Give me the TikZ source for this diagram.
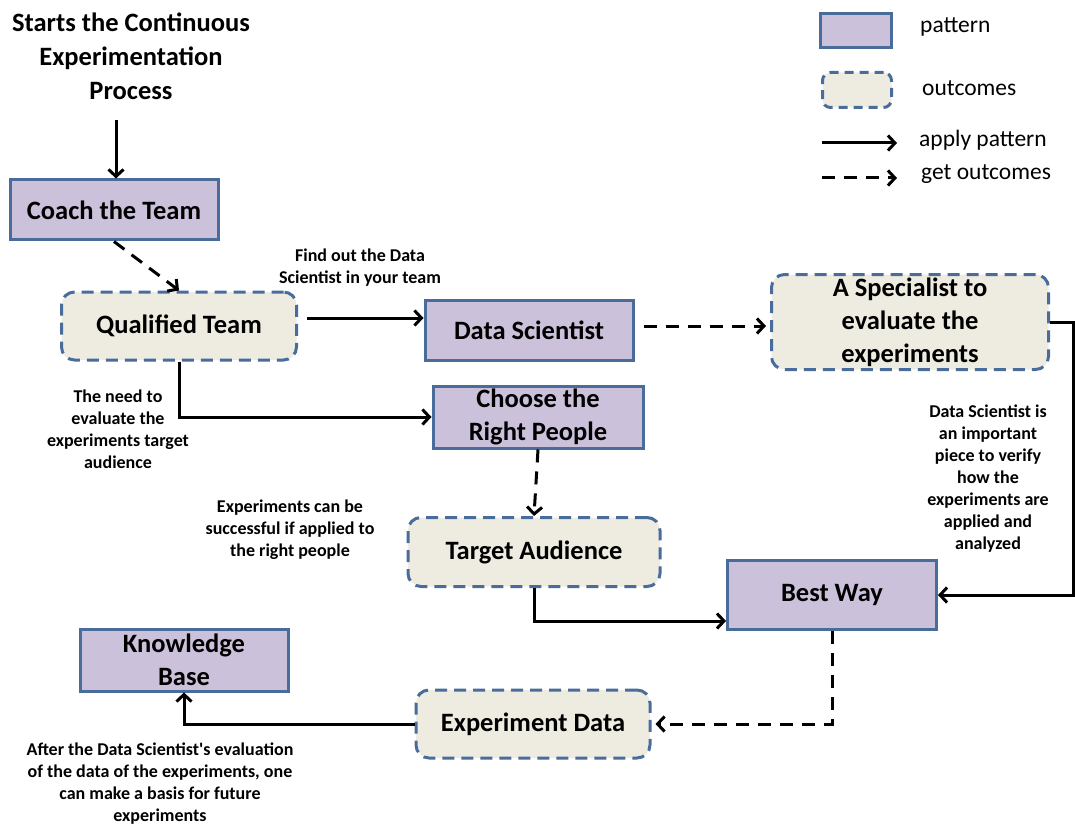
\documentclass[tikz,border=0pt]{standalone}
\usepackage{fontspec}
\setmainfont{Carlito}[Ligatures=TeXOff]
\usetikzlibrary{arrows.meta}
\definecolor{pfill}{HTML}{CCC1DA}
\definecolor{ofill}{HTML}{EEECE1}
\definecolor{bord}{HTML}{4A6C9B}
\tikzset{
  patbox/.style={draw=bord, line width=3pt, fill=pfill, inner sep=0pt, align=center,
    font=\fontsize{26.5}{33}\selectfont\bfseries},
  outbox/.style={draw=bord, line width=3pt, dash pattern=on 12pt off 7pt, fill=ofill,
    rounded corners=13pt, inner sep=0pt, align=center, font=\fontsize{26.5}{33}\selectfont\bfseries},
  note/.style={align=center, inner sep=0pt, font=\fontsize{18}{22}\selectfont\bfseries},
  legtext/.style={anchor=west, inner sep=0pt, font=\fontsize{23.5}{28}\selectfont},
  conn/.style={line width=3pt, -{Straight Barb[length=7pt,width=15pt]}},
  dconn/.style={conn, dash pattern=on 13pt off 9pt},
}
\begin{document}
\begin{tikzpicture}[x=1pt, y=-1pt]
\path[use as bounding box] (0,0) rectangle (1075,826);

% title
\node[align=center, inner sep=0pt, font=\fontsize{26.5}{34}\selectfont\bfseries] (title) at (131,56)
  {Starts the Continuous\\Experimentation\\Process};
\coordinate (tstart) at (116,120);

% nodes
\node[patbox, minimum width=208pt, minimum height=60pt] (coach) at (114,210) {Coach the Team};
\node[outbox, minimum width=235pt, minimum height=68pt] (qual) at (179,326) {Qualified Team};
\node[patbox, minimum width=208pt, minimum height=60pt] (ds) at (529,330) {Data Scientist};
\node[outbox, minimum width=277pt, minimum height=95pt] (spec) at (910,322) {A Specialist to\\evaluate the\\experiments};
\node[patbox, minimum width=210pt, minimum height=62pt] (choose) at (538,417) {Choose the\\Right People};
\node[outbox, minimum width=252pt, minimum height=69pt] (target) at (534,552) {Target Audience};
\node[patbox, minimum width=209pt, minimum height=69pt] (best) at (832,595) {Best Way};
\node[outbox, minimum width=234pt, minimum height=68pt] (expd) at (533,724) {Experiment Data};
\node[patbox, minimum width=208pt, minimum height=62pt] (kb) at (184,660) {Knowledge\\Base};

% notes
\node[note] (nfind) at (360,268) {Find out the Data\\Scientist in your team};
\node[note] (nneed) at (118,429) {The need to\\evaluate the\\experiments target\\audience};
\node[note] (nsucc) at (290,530) {Experiments can be\\successful if applied to\\the right people};
\node[note] (nimp) at (988,478.5) {Data Scientist is\\an important\\piece to verify\\how the\\experiments are\\applied and\\analyzed};
\node[note] (nafter) at (160,783.5) {After the Data Scientist's evaluation\\of the data of the experiments, one\\can make a basis for future\\experiments};

% connectors
\coordinate (rx) at (1073,0);
\draw[conn] (tstart) -- (tstart |- coach.north);
\draw[dconn] (coach.south) -- (qual.north);
\draw[conn] ([xshift=9pt,yshift=8pt]qual.east) -- ([yshift=8pt]qual.east -| ds.west);
\draw[dconn] ([xshift=9pt,yshift=4pt]ds.east) -- ([xshift=-4pt,yshift=4pt]ds.east -| spec.west);
\draw[conn] (spec.east) -- (spec.east -| rx) |- (best.east);
\draw[conn] (qual.south) |- (choose.west);
\draw[dconn] (choose.south) -- (target.north);
\draw[conn] (target.south) |- ([yshift=-26pt]best.west);
\draw[dconn] (best.south) |- ([xshift=4pt]expd.east);
\draw[conn] (expd.west) -| (kb.south);

% legend
\node[patbox, minimum width=71pt, minimum height=34pt] (lp) at (856,31) {};
\node[outbox, rounded corners=8pt, dash pattern=on 9pt off 6pt, minimum width=69pt, minimum height=35pt] (lo) at (857,90) {};
\node[legtext] (lpt) at (920,27) {pattern};
\node[legtext] (lot) at (922,88) {outcomes};
\coordinate (la1) at (822,143);
\coordinate (la2) at (897,143);
\coordinate (lg1) at (822,178);
\coordinate (lg2) at (897,178);
\draw[conn] (la1) -- (la2);
\draw[dconn] (lg1) -- (lg2);
\node[legtext] (lat) at (919,140) {apply pattern};
\node[legtext] (lgt) at (921,174) {get outcomes};
\end{tikzpicture}
\end{document}
